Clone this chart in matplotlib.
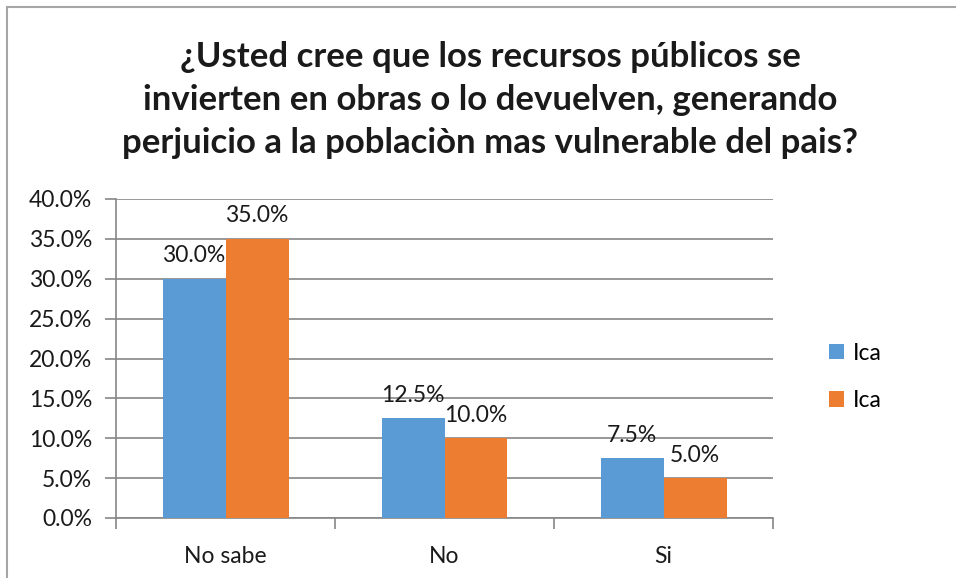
import matplotlib
matplotlib.use("Agg")
import matplotlib.pyplot as plt
from matplotlib.lines import Line2D
import numpy as np

categories = ["No sabe", "No", "Si"]
series_names = ["Ica", "Ica"]
values_a = [30.0, 12.5, 7.5]
values_b = [35.0, 10.0, 5.0]
yticks = [0, 5, 10, 15, 20, 25, 30, 35, 40]
title = ("¿Usted cree que los recursos públicos se\n"
         "invierten en obras o lo devuelven, generando\n"
         "perjuicio a la poblaciòn mas vulnerable del pais?")

plt.rcParams['font.family'] = ['Lato', 'DejaVu Sans']
W, H = 956, 578
fig = plt.figure(figsize=(W / 100, H / 100), dpi=100)
fig.patch.set_facecolor("white")

# outer chart border (top and left visible)
fig.add_artist(Line2D([7 / W, 7 / W], [0, 1 - 7 / H], color="#a6a6a6", lw=1.5, transform=fig.transFigure))
fig.add_artist(Line2D([7 / W, 1], [1 - 7 / H, 1 - 7 / H], color="#a6a6a6", lw=1.5, transform=fig.transFigure))

left, right, top, bottom = 116, 773, 199, 518
ax = fig.add_axes([left / W, 1 - bottom / H, (right - left) / W, (bottom - top) / H])

x = np.arange(len(categories))
bw = 63 / 219
c1, c2 = "#5B9BD5", "#ED7D31"
fs = 16.5
b1 = ax.bar(x - bw / 2, values_a, bw, color=c1, label=series_names[0], zorder=3)
b2 = ax.bar(x + bw / 2, values_b, bw, color=c2, label=series_names[1], zorder=3)

for bars, vals in ((b1, values_a), (b2, values_b)):
    for rect, v in zip(bars, vals):
        ax.annotate(f"{v:.1f}%", (rect.get_x() + rect.get_width() / 2, v),
                    xytext=(0, 9), textcoords="offset points",
                    ha="center", va="bottom", fontsize=fs, color="#1a1a1a", zorder=5)

ax.set_xlim(-0.5, 2.5)
ax.set_ylim(0, 40)
ax.set_yticks(yticks)
ax.set_yticklabels([f"{t:.1f}%" for t in yticks], fontsize=fs, color="#1a1a1a")
ax.set_xticks(x)
ax.set_xticklabels(categories, fontsize=fs, color="#1a1a1a")
ax.set_xticks([-0.5, 0.5, 1.5, 2.5], minor=True)
ax.tick_params(axis="x", which="major", length=0, pad=20)
ax.tick_params(axis="x", which="minor", length=8, color="#868686", width=1.2)
ax.tick_params(axis="y", length=8, color="#868686", width=1.2, pad=9)
ax.grid(axis="y", color="#868686", lw=1.2, zorder=0)
for s in ["top", "right"]:
    ax.spines[s].set_visible(False)
for s in ["left", "bottom"]:
    ax.spines[s].set_color("#868686")
    ax.spines[s].set_linewidth(1.2)

fig.text(490 / W, 1 - 100 / H, title, ha="center", va="center", fontsize=25,
         fontweight="bold", color="#1a1a1a", linespacing=1.42)

leg = fig.legend(handles=[b1, b2], labels=series_names, loc="center left",
                 bbox_to_anchor=(808 / W, 1 - 377 / H), frameon=False, fontsize=fs,
                 handlelength=0.65, handleheight=0.65, handletextpad=0.4, labelspacing=1.15)

fig.savefig("out.png", dpi=100, facecolor="white")
